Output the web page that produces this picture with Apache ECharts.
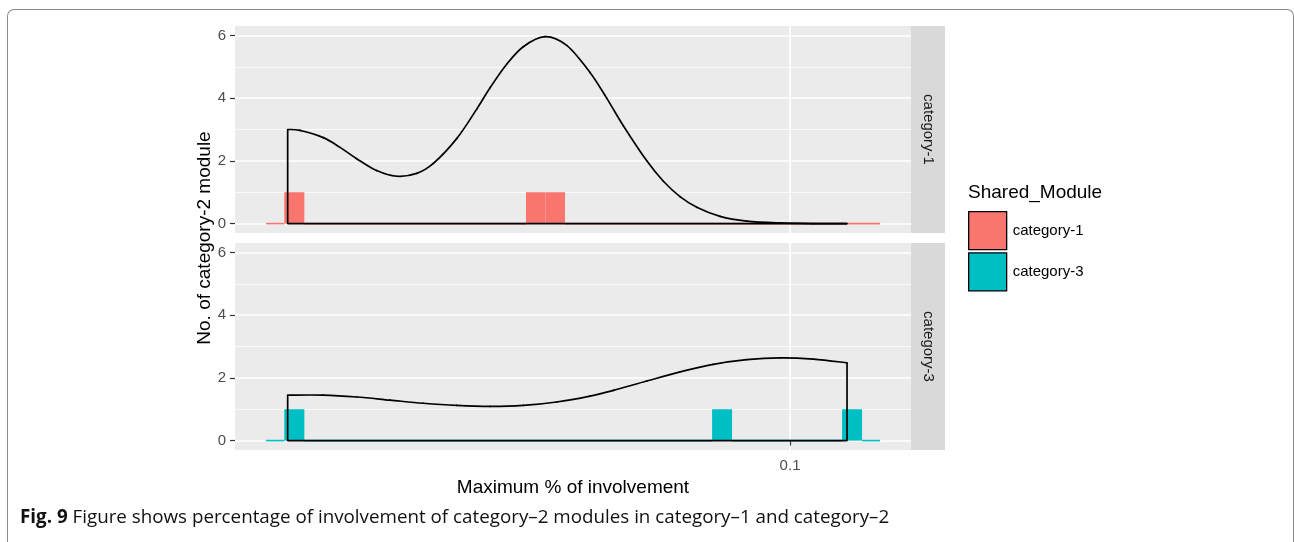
<!DOCTYPE html>
<html>
<head>
<meta charset="utf-8">
<script src="https://cdn.jsdelivr.net/npm/echarts@6/dist/echarts.min.js"></script>
<style>
  html, body { margin: 0; padding: 0; background: #fff; }
  body { width: 1294px; height: 542px; overflow: hidden; position: relative; }
  #chart { position: absolute; left: 0; top: 0; width: 1294px; height: 542px; }
  #frame {
    position: absolute; left: 7px; top: 9px; width: 1285px; height: 560px;
    border: 1.5px solid #8a8a8a; border-bottom: none;
    border-radius: 7px 7px 0 0; pointer-events: none;
  }
  #caption {
    position: absolute; left: 20px; top: 503px; white-space: nowrap;
    font-family: "Open Sans", "Noto Sans", sans-serif; font-size: 18.8px; color: #111;
    line-height: 26px;
  }
  #caption b { font-weight: 700; }
</style>
</head>
<body>
<div id="chart"></div>
<div id="frame"></div>
<div id="caption"><b>Fig. 9</b> Figure shows percentage of involvement of category–2 modules in category–1 and category–2</div>
<script>
// Facets and legend entries
const facets = ['category-1', 'category-3'];
const fillColors = ['#F8766D', '#00BFC4'];

// Axis breaks
const yMajor = [0, 2, 4, 6];
const yMinor = [1, 3, 5];
const xBreaks = [0.1];
const xMin = 0.042658;
const xMax = 0.12040;

// Histogram bins (lower edge, upper edge, count) per facet
const cat1BinLo = [0.04474, 0.04601, 0.04745, 0.06668, 0.06871, 0.07079];
const cat1BinHi = [0.04601, 0.04745, 0.06668, 0.06871, 0.07079, 0.11482];
const cat1Count = [0, 1, 0, 1, 1, 0];

const cat3BinLo = [0.04474, 0.04601, 0.04745, 0.08872, 0.09148, 0.10831, 0.11169];
const cat3BinHi = [0.04601, 0.04745, 0.08872, 0.09148, 0.10831, 0.11169, 0.11482];
const cat3Count = [0, 1, 0, 1, 0, 1, 0];

// Density curves
const cat1DensX = [0.04625, 0.04713, 0.04885, 0.05012, 0.05142, 0.05302, 0.05468, 0.05638,
  0.05784, 0.05995, 0.06182, 0.06310, 0.06473, 0.06640, 0.06865, 0.07098, 0.07356, 0.07547,
  0.07742, 0.08026, 0.08233, 0.08446, 0.08666, 0.08981, 0.09357, 0.09848, 0.10359, 0.10914];
const cat1DensY = [3.00, 2.97, 2.74, 2.43, 2.07, 1.69, 1.51, 1.60,
  1.92, 2.71, 3.65, 4.33, 5.08, 5.64, 5.96, 5.68, 4.82, 4.00,
  3.12, 2.00, 1.35, 0.86, 0.52, 0.23, 0.08, 0.02, 0.00, 0.00];

const cat3DensX = [0.04625, 0.04885, 0.05142, 0.05412, 0.05695, 0.05995, 0.06310, 0.06640,
  0.06989, 0.07356, 0.07624, 0.08026, 0.08446, 0.08889, 0.09357, 0.09848, 0.10364, 0.10914];
const cat3DensY = [1.45, 1.45, 1.39, 1.29, 1.19, 1.12, 1.09, 1.12,
  1.23, 1.42, 1.60, 1.90, 2.19, 2.43, 2.58, 2.64, 2.60, 2.48];

const FONT = '"Liberation Sans", Arial, Helvetica, sans-serif';

const bins = [
  cat1BinLo.map((lo, i) => [lo, cat1BinHi[i], cat1Count[i]]),
  cat3BinLo.map((lo, i) => [lo, cat3BinHi[i], cat3Count[i]])
];
const dens = [
  cat1DensX.map((x, i) => [x, cat1DensY[i]]),
  cat3DensX.map((x, i) => [x, cat3DensY[i]])
];

const panels = [{ top: 26 }, { top: 243 }];
const PANEL_LEFT = 235, PANEL_W = 676, PANEL_H = 207, STRIP_W = 34;

const grids = panels.map(p => ({
  left: PANEL_LEFT, top: p.top, width: PANEL_W, height: PANEL_H,
  show: true, backgroundColor: '#EBEBEB', borderWidth: 0, containLabel: false
}));

const xAxes = panels.map((p, g) => ({
  type: 'log', logBase: 10, gridIndex: g, min: xMin, max: xMax,
  axisLine: { show: false },
  axisTick: { show: g === 1, length: 5, customValues: xBreaks, lineStyle: { color: '#333', width: 1.2 } },
  axisLabel: { show: g === 1, customValues: xBreaks, color: '#4D4D4D', fontSize: 15, margin: 8,
    fontFamily: FONT, formatter: v => String(v) },
  splitLine: { show: true, lineStyle: { color: '#fff', width: 1.6 } },
  name: g === 1 ? 'Maximum % of involvement' : '',
  nameLocation: 'middle', nameGap: 28,
  nameTextStyle: { fontSize: 19, color: '#000', fontFamily: FONT }
}));

const yAxes = [];
panels.forEach((p, g) => {
  yAxes.push({
    type: 'value', gridIndex: g, min: -0.3, max: 6.3,
    axisLine: { show: false },
    axisTick: { show: true, length: 5, customValues: yMajor, lineStyle: { color: '#333', width: 1.2 } },
    axisLabel: { customValues: yMajor, color: '#4D4D4D', fontSize: 15, margin: 9, fontFamily: FONT },
    splitLine: { show: true, lineStyle: { color: '#fff', width: 1.6 } }
  });
  yAxes.push({
    type: 'value', gridIndex: g, min: -0.3, max: 6.3, position: 'left',
    axisLine: { show: false },
    axisTick: { show: false, customValues: yMinor },
    axisLabel: { show: false, customValues: yMinor },
    splitLine: { show: true, lineStyle: { color: '#fff', width: 0.8 } }
  });
});

// Histogram bars; empty bins show as a thin coloured baseline
function histSeries(g) {
  const color = fillColors[g];
  return {
    name: facets[g], type: 'custom', xAxisIndex: g, yAxisIndex: g * 2,
    itemStyle: { color: color },
    encode: { x: [0, 1], y: 2 },
    data: bins[g],
    z: 2,
    renderItem: function (params, api) {
      const lo = api.value(0), hi = api.value(1), c = api.value(2);
      const p0 = api.coord([lo, 0]);
      const p1 = api.coord([hi, c]);
      if (c === 0) {
        return { type: 'line', shape: { x1: p0[0], y1: p0[1], x2: p1[0], y2: p0[1] },
          style: { stroke: color, lineWidth: 1.6 } };
      }
      return { type: 'rect',
        shape: { x: p0[0], y: p1[1], width: p1[0] - p0[0], height: p0[1] - p1[1] },
        style: { fill: color } };
    }
  };
}

// Density curve: each segment is a Catmull-Rom cubic between neighbouring points
function densSeries(g) {
  const pts = dens[g];
  const n = pts.length;
  return {
    name: facets[g] + ' density', type: 'custom', xAxisIndex: g, yAxisIndex: g * 2,
    data: pts, encode: { x: 0, y: 1 }, z: 5, silent: true,
    renderItem: function (params, api) {
      const i = params.dataIndex;
      if (i >= n - 1) return null;
      const at = k => api.coord(pts[Math.max(0, Math.min(n - 1, k))]);
      const a = at(i - 1), b = at(i), c = at(i + 1), d = at(i + 2);
      return {
        type: 'bezierCurve',
        shape: {
          x1: b[0], y1: b[1], x2: c[0], y2: c[1],
          cpx1: b[0] + (c[0] - a[0]) / 6, cpy1: b[1] + (c[1] - a[1]) / 6,
          cpx2: c[0] - (d[0] - b[0]) / 6, cpy2: c[1] - (d[1] - b[1]) / 6
        },
        style: { stroke: '#000', lineWidth: 1.7, fill: 'none', lineCap: 'round' }
      };
    }
  };
}

function outlineSeries(g) {
  const d = dens[g];
  const first = d[0], last = d[d.length - 1];
  return {
    name: facets[g] + ' outline', type: 'line', xAxisIndex: g, yAxisIndex: g * 2,
    data: [[first[0], first[1]], [first[0], 0], [last[0], 0], [last[0], last[1]]],
    smooth: false, showSymbol: false, symbol: 'none',
    lineStyle: { color: '#000', width: 1.7 }, z: 5, silent: true
  };
}

const graphics = [];
panels.forEach((p, g) => {
  graphics.push({
    type: 'rect', left: PANEL_LEFT + PANEL_W, top: p.top,
    shape: { width: STRIP_W, height: PANEL_H }, style: { fill: '#D9D9D9' }, silent: true
  });
  graphics.push({
    type: 'text', x: PANEL_LEFT + PANEL_W + STRIP_W / 2, y: p.top + PANEL_H / 2,
    rotation: -Math.PI / 2,
    style: { text: facets[g], fill: '#1A1A1A', font: '15px ' + FONT, align: 'center', verticalAlign: 'middle' },
    silent: true
  });
});
graphics.push({
  type: 'text', x: 205, y: 238, rotation: Math.PI / 2,
  style: { text: 'No. of category-2 module', fill: '#000', font: '19px ' + FONT, align: 'center', verticalAlign: 'middle' },
  silent: true
});
graphics.push({
  type: 'text', x: 968, y: 193,
  style: { text: 'Shared_Module', fill: '#000', font: '19px ' + FONT, align: 'left', verticalAlign: 'middle' },
  silent: true
});

const chart = echarts.init(document.getElementById('chart'), null, { renderer: 'canvas' });
chart.setOption({
  animation: false,
  backgroundColor: 'transparent',
  grid: grids,
  xAxis: xAxes,
  yAxis: yAxes,
  legend: {
    orient: 'vertical', left: 968, top: 211, padding: 0,
    itemWidth: 38, itemHeight: 38, itemGap: 2, icon: 'rect',
    selectedMode: false,
    data: facets,
    itemStyle: { borderColor: '#000', borderWidth: 1.3 },
    textStyle: { fontSize: 15, color: '#000', fontFamily: FONT, padding: [0, 0, 0, 1] }
  },
  graphic: graphics,
  series: [histSeries(0), histSeries(1), densSeries(0), densSeries(1), outlineSeries(0), outlineSeries(1)]
});
</script>
</body>
</html>
